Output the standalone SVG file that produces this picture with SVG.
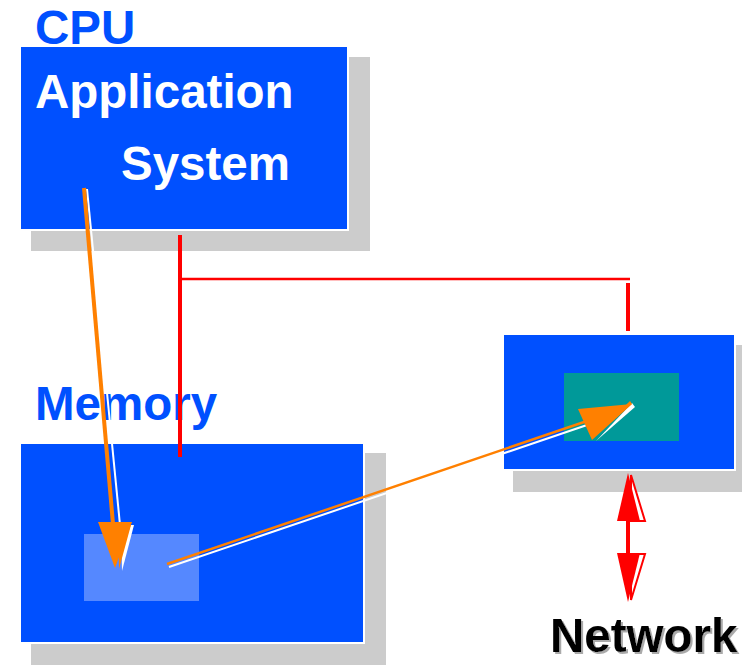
<svg xmlns="http://www.w3.org/2000/svg" width="743" height="666" viewBox="0 0 743 666">
<defs>
<filter id="tsh" x="-5%" y="-20%" width="115%" height="150%">
<feDropShadow dx="2" dy="2" stdDeviation="0.6" flood-color="#aaaaaa" flood-opacity="1"/>
</filter>
</defs>
<style>
.shadow{fill:#cccccc}
.box{fill:#0050ff;stroke:#ffffff;stroke-width:2}
.lbl{font-family:"Liberation Sans",Arial,sans-serif;font-weight:bold;font-size:47.5px}
.red{stroke:#ff0000;fill:none}
.or{stroke:#ff8000;fill:none}
.wh{stroke:#ffffff;fill:none}
</style>
<rect width="743" height="666" fill="#ffffff"/>
<g id="cpu">
<rect class="shadow" x="31" y="57" width="339" height="194"/>
<rect class="box" x="20" y="46" width="328" height="184"/>
<text class="lbl" x="35" y="44" fill="#0050ff">CPU</text>
<text class="lbl" x="35" y="108" fill="#ffffff">Application</text>
<text class="lbl" x="121" y="180" fill="#ffffff">System</text>
</g>
<g id="memory">
<rect class="shadow" x="31" y="453" width="355" height="212"/>
<rect class="box" x="20" y="443" width="344" height="200"/>
<rect x="84" y="534" width="115" height="67" fill="#5588ff"/>
<text class="lbl" x="35" y="420" fill="#0050ff">Memory</text>
</g>
<g id="nic">
<rect class="shadow" x="513" y="345" width="229" height="147"/>
<rect class="box" x="503" y="334" width="232" height="136"/>
<rect x="564" y="373" width="115" height="68" fill="#009999"/>
</g>
<g id="network">
<text class="lbl" x="550" y="652" fill="#000000" filter="url(#tsh)">Network</text>
</g>
<g id="connectors">
<line class="red" x1="180" y1="235" x2="180" y2="457" stroke-width="4"/>
<line class="red" x1="180" y1="279" x2="630" y2="279" stroke-width="2.5"/>
<line class="red" x1="628" y1="283" x2="628" y2="331" stroke-width="4"/>
<line class="wh" x1="87" y1="189" x2="120" y2="525" stroke-width="2"/>
<polygon points="121,525 134,525 122,571" fill="#ffffff"/>
<polygon points="118,525 131,525 119,569" fill="#ff8000"/>
<line class="or" x1="84" y1="188" x2="113" y2="524" stroke-width="4"/>
<polygon points="98,522 132,522 115,568" fill="#ff8000"/>
<line class="wh" x1="169" y1="567" x2="590" y2="424" stroke-width="2"/>
<polygon points="596,441 635,407 632,403" fill="#ffffff"/>
<line class="or" x1="167" y1="564" x2="590" y2="420" stroke-width="2.5"/>
<polygon points="592,438 632,404 630,401" fill="#ff8000"/>
<polygon points="578,409 632,404 592,440" fill="#ff8000"/>
<line class="red" x1="628" y1="500" x2="628" y2="575" stroke-width="4"/>
<polygon points="631,475 645,521 631,521" fill="#ffffff" stroke="#ff0000" stroke-width="2"/>
<polygon points="628,473 617,521 640,521" fill="#ff0000"/>
<polygon points="631,600 645,554 631,554" fill="#ffffff" stroke="#ff0000" stroke-width="2"/>
<polygon points="628,602 617,553 640,553" fill="#ff0000"/>
</g>
</svg>
